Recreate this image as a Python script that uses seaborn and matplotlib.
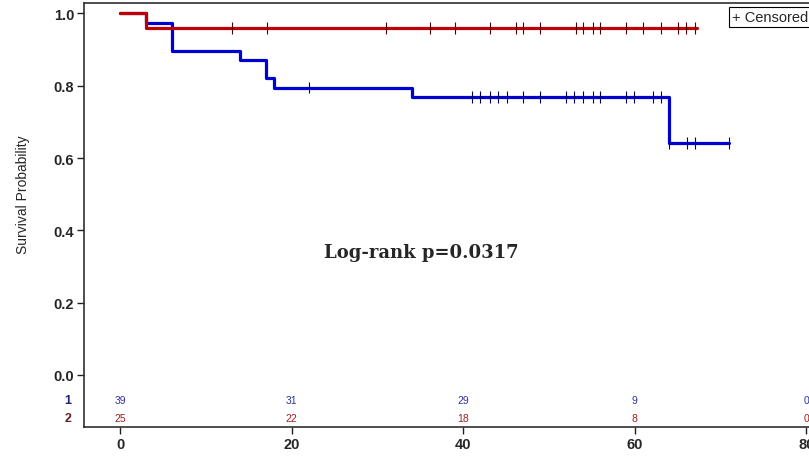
import numpy as np
import pandas as pd
import matplotlib
matplotlib.use("Agg")
import matplotlib.pyplot as plt
import seaborn as sns

# ---- data ----
# Kaplan-Meier step curves (time of step, survival after step)
g1_times = [0, 3, 6, 14, 17, 18, 34, 64, 71]
g1_surv = [1.0, 0.974, 0.897, 0.872, 0.821, 0.795, 0.769, 0.641, 0.641]
g2_times = [0, 3, 67.2]
g2_surv = [1.0, 0.96, 0.96]

# censoring times
g1_cens = [22, 41, 42, 43.1, 44.1, 45.1, 47, 49, 52, 52.9, 54, 55.1, 56, 59, 59.9,
           62.1, 63, 64, 66.1, 67, 71]
g2_cens = [13.1, 17.1, 31, 36.1, 39, 43.1, 46.1, 47, 49, 53.1, 54, 55.1, 55.9, 59,
           60.9, 63, 65, 66, 67]

# number at risk table
risk_times = [0, 20, 40, 60, 80]
risk_g1 = [39, 31, 29, 9, 0]
risk_g2 = [25, 22, 18, 8, 0]

x_ticks = [0, 20, 40, 60, 80]
y_ticks = [0.0, 0.2, 0.4, 0.6, 0.8, 1.0]

c1 = "#0000D0"
c2 = "#C00000"

sns.set_theme(style="white")
plt.rcParams["font.family"] = ["Liberation Sans", "DejaVu Sans"]

fig = plt.figure(figsize=(8.09, 4.60), dpi=100)
ax = fig.add_axes([84 / 809, 1 - 428 / 460, 1 - 84 / 809 + 0.001, (428 - 4) / 460])

curves = pd.DataFrame({
    "time": g1_times + g2_times,
    "surv": g1_surv + g2_surv,
    "group": ["1"] * len(g1_times) + ["2"] * len(g2_times),
})
sns.lineplot(data=curves, x="time", y="surv", hue="group", palette={"1": c1, "2": c2},
             drawstyle="steps-post", estimator=None, sort=False, linewidth=2.3,
             legend=False, ax=ax)


def step_value(times, surv, t):
    i = np.searchsorted(np.array(times), t, side="right") - 1
    return surv[max(i, 0)]


cens = pd.DataFrame({
    "time": g1_cens + g2_cens,
    "surv": [step_value(g1_times, g1_surv, t) for t in g1_cens]
            + [step_value(g2_times, g2_surv, t) for t in g2_cens],
    "group": ["1"] * len(g1_cens) + ["2"] * len(g2_cens),
})
sns.scatterplot(data=cens, x="time", y="surv", hue="group",
                palette={"1": "#000060", "2": "#500000"}, marker="|", s=70,
                linewidth=0.8, legend=False, ax=ax, zorder=5)

# number at risk rows (inside the axes)
for t, n1, n2 in zip(risk_times, risk_g1, risk_g2):
    ax.text(t, -0.07, str(n1), color="#3030A0", fontsize=7.5, ha="center", va="center")
    ax.text(t, -0.118, str(n2), color="#A02020", fontsize=7.5, ha="center", va="center")
ax.text(-4.2 - 1.5, -0.07, "1", color="#202080", fontsize=9, ha="right", va="center",
        fontweight="bold")
ax.text(-4.2 - 1.5, -0.118, "2", color="#602020", fontsize=9, ha="right", va="center",
        fontweight="bold")

ax.text(35.1, 0.34, "Log-rank p=0.0317", fontsize=13, ha="center", va="center",
        family=["DejaVu Serif"], fontweight="bold")

ax.text(0.9985, 0.984, "+ Censored", transform=ax.transAxes, fontsize=10.5,
        ha="right", va="top",
        bbox=dict(boxstyle="square,pad=0.22", facecolor="white", edgecolor="black",
                  linewidth=0.8))

ax.set_xlim(-4.2, 80.4)
ax.set_ylim(-0.144, 1.029)
ax.set_xticks(x_ticks)
ax.set_xticklabels([str(v) for v in x_ticks], fontsize=10.5, fontweight="bold")
ax.set_yticks(y_ticks)
ax.set_yticklabels([f"{v:.1f}" for v in y_ticks], fontsize=10.5, fontweight="bold")
ax.tick_params(axis="both", direction="out", length=5, width=1, color="#202020",
               left=True, bottom=True, pad=2)
ax.set_xlabel("")
ax.set_ylabel("Survival Probability", fontsize=10)
ax.yaxis.set_label_coords(-0.075, 0.55)
for s in ["left", "bottom", "top"]:
    ax.spines[s].set_color("#303030")
    ax.spines[s].set_linewidth(1.2)
ax.spines["right"].set_visible(False)

fig.savefig("out.png", dpi=100)
